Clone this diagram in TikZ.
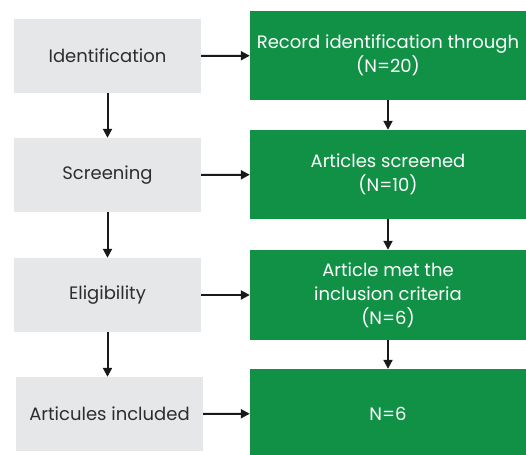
\documentclass[tikz,border=0pt]{standalone}
\usepackage{fontspec}
\setmainfont{Poppins}
\usetikzlibrary{positioning,arrows.meta}
\definecolor{prismagreen}{RGB}{16,145,70}
\definecolor{prismagray}{RGB}{230,231,232}
\definecolor{prismatext}{RGB}{45,45,48}

\begin{document}
\begin{tikzpicture}[
  x=1pt,y=-1pt,
  stage/.style={rectangle,fill=prismagray,text=prismatext,
        font=\fontsize{18}{24}\selectfont,minimum width=187pt,minimum height=74pt,inner sep=0pt},
  count/.style={rectangle,fill=prismagreen,text=white,align=center,
        font=\fontsize{18}{24}\selectfont,minimum width=276pt,minimum height=89pt,inner sep=0pt},
  arrow/.style={-{Triangle[length=9pt,width=9pt]},black!90,line width=2pt}
]
\useasboundingbox (0,0) rectangle (526,454);
\node[stage] (ident) at (107.5,56) {Identification};
\node[stage] (screen) at (107.5,175) {Screening};
\node[stage] (elig) at (107.5,295) {Eligibility};
\node[stage] (incl) at (109.5,414) {Articules included};
\node[count] (rec) at (388,55.5) {Record identification through\\(N=20)};
\node[count] (scr) at (388,174.5) {Articles screened\\(N=10)};
\node[count,minimum height=90pt] (met) at (388,295) {Article met the\\inclusion criteria\\(N=6)};
\node[count] (nsix) at (388,413.5) {N=6};
\draw[arrow] (ident) -- (screen);
\draw[arrow] (screen) -- (elig);
\draw[arrow] (elig.south) -- (elig.south |- incl.north);
\draw[arrow] (ident) -- (rec);
\draw[arrow] (screen) -- (scr);
\draw[arrow] (elig) -- (met);
\draw[arrow] (incl) -- (nsix);
\draw[arrow] (rec) -- (scr);
\draw[arrow] (scr) -- (met);
\draw[arrow] (met) -- (nsix);
\end{tikzpicture}
\end{document}
